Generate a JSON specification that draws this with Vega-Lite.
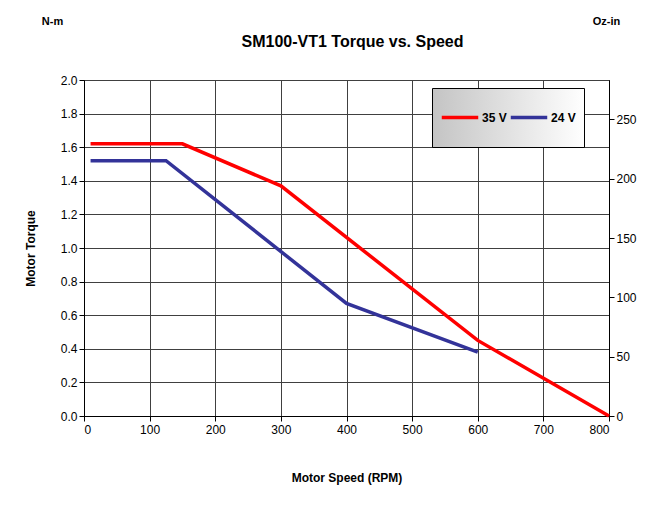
{
  "$schema": "https://vega.github.io/schema/vega-lite/v6.json",
  "autosize": "none",
  "width": 525,
  "height": 336,
  "padding": {"left": 84, "top": 80, "right": 43, "bottom": 96},
  "background": "white",
  "config": {
    "font": "Liberation Sans",
    "view": {"stroke": "black", "strokeWidth": 1},
    "axis": {"labelFont": "Liberation Sans", "labelFontSize": 12, "labelColor": "black", "titleFont": "Liberation Sans", "titleFontSize": 12, "titleFontWeight": "bold", "titleColor": "black", "domainColor": "black", "tickColor": "black", "gridColor": "#404040", "gridOpacity": 1}
  },
  "title": {"text": "SM100-VT1 Torque vs. Speed", "font": "Liberation Sans", "fontSize": 16, "fontWeight": "bold", "color": "black", "anchor": "middle", "offset": -35, "dx": 6},
  "layer": [
    {
      "data": {"values": [
        {"speed": 10, "torque": 1.62, "voltage": "35 V"},
        {"speed": 150, "torque": 1.62, "voltage": "35 V"},
        {"speed": 300, "torque": 1.37, "voltage": "35 V"},
        {"speed": 600, "torque": 0.45, "voltage": "35 V"},
        {"speed": 800, "torque": 0.0, "voltage": "35 V"},
        {"speed": 10, "torque": 1.52, "voltage": "24 V"},
        {"speed": 125, "torque": 1.52, "voltage": "24 V"},
        {"speed": 400, "torque": 0.67, "voltage": "24 V"},
        {"speed": 600, "torque": 0.38, "voltage": "24 V"}
      ]},
      "mark": {"type": "line", "strokeWidth": 3.5},
      "encoding": {
        "x": {"field": "speed", "type": "quantitative", "scale": {"domain": [0, 800], "nice": false}, "axis": {"values": [0,100,200,300,400,500,600,700,800], "title": "Motor Speed (RPM)", "titlePadding": 37, "tickSize": 5, "labelPadding": 3}},
        "y": {"field": "torque", "type": "quantitative", "scale": {"domain": [0, 2], "nice": false}, "axis": {"values": [0,0.2,0.4,0.6,0.8,1.0,1.2,1.4,1.6,1.8,2.0], "format": ".1f", "title": "Motor Torque", "titlePadding": 23, "tickSize": 5}},
        "color": {"field": "voltage", "type": "nominal", "sort": ["35 V", "24 V"], "scale": {"domain": ["35 V", "24 V"], "range": ["#ff0000", "#333399"]},
          "legend": {"title": null, "orient": "none", "legendX": 348, "legendY": 8, "direction": "horizontal", "symbolType": "stroke", "symbolStrokeWidth": 3.5, "symbolSize": 1330, "clipHeight": 43, "labelFontSize": 12, "labelFontWeight": "bold", "labelColor": "black", "labelFont": "Liberation Sans", "labelOffset": 2, "columnPadding": 2, "padding": 8, "strokeColor": "black", "fillColor": {"expr": "{gradient: 'linear', x1: 0, y1: 0, x2: 1, y2: 0, stops: [{offset: 0, color: '#c4c4c4'}, {offset: 1, color: '#ffffff'}]}"}}}
      }
    },
    {
      "data": {"values": [{"oz": 0}, {"oz": 283.2}]},
      "mark": {"type": "point", "opacity": 0},
      "encoding": {
        "x": {"field": "oz", "type": "quantitative", "axis": {"orient": "top", "labels": false, "ticks": false, "domain": false, "grid": false, "title": "N-m", "titleAngle": 0, "titleX": -32, "titleY": -54, "titleFontSize": 11, "titleAnchor": "start", "titleAlign": "center"}},
        "y": {"field": "oz", "type": "quantitative", "scale": {"domain": [0, 283.2], "nice": false}, "axis": {"orient": "right", "values": [0,50,100,150,200,250], "grid": false, "title": "Oz-in", "titleAngle": 0, "titleX": -3, "titleY": -54, "titleFontSize": 11, "titleAlign": "center", "tickSize": 5}}
      }
    }
  ],
  "resolve": {"scale": {"y": "independent", "x": "independent"}, "axis": {"y": "independent", "x": "independent"}}
}
